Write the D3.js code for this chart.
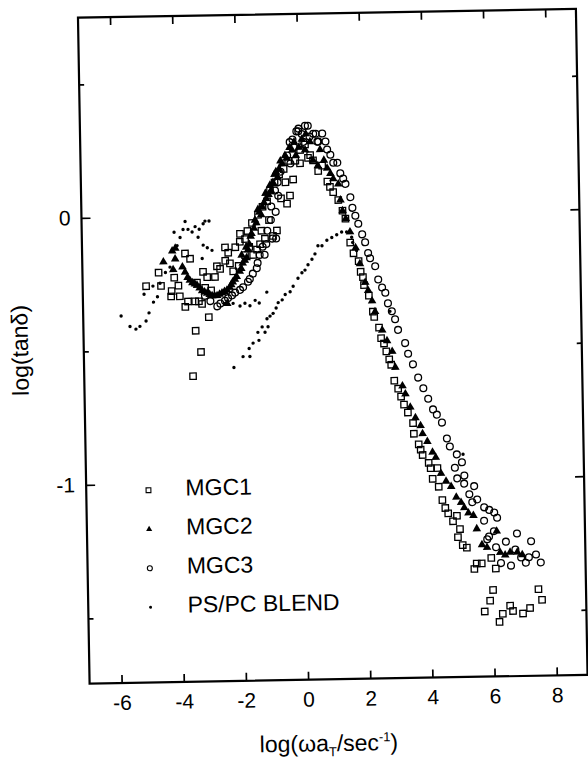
<!DOCTYPE html>
<html>
<head>
<meta charset="utf-8">
<script src="https://d3js.org/d3.v7.min.js"></script>
<style>
  body { margin: 0; background: #fff; }
  text { font-family: "Liberation Sans", Arial, Helvetica, sans-serif; fill: #000; }
</style>
</head>
<body>
<svg width="588" height="763"></svg>
<script>
// axis ticks
var xTicks = [-6, -4, -2, 0, 2, 4, 6, 8];
var yMajor = [0, -1];
var yMinor = [0.5, -0.5, -1.5];

var seriesNames = ["MGC1", "MGC2", "MGC3", "PS/PC BLEND"];

// [log(w aT), log(tan d)]
var mgc1 = [
  [-4.99,-0.26],[-4.58,-0.21],[-4.51,-0.26],[-4.19,-0.30],[-4.08,-0.23],[-3.95,-0.26],[-4.17,-0.28],
  [-3.91,-0.30],[-3.72,-0.14],[-3.56,-0.16],[-3.65,-0.32],[-3.74,-0.34],[-3.42,-0.32],[-3.30,-0.32],
  [-3.20,-0.33],[-2.99,-0.38],[-3.42,-0.43],[-3.26,-0.51],[-3.53,-0.60],[-3.15,-0.21],[-3.02,-0.23],
  [-3.09,-0.27],[-2.77,-0.23],[-2.70,-0.19],[-2.43,-0.12],[-2.33,-0.14],[-2.43,-0.17],[-2.28,-0.18],
  [-2.18,-0.21],[-1.94,-0.07],[-1.78,-0.09],[-1.79,-0.15],[-1.53,-0.15],[-1.40,-0.13],[-1.30,-0.11],
  [-1.14,-0.09],[-0.88,-0.08],[-0.75,-0.06],[-0.41,0.04],[-0.31,0.07],[-0.20,0.13],
  [-3.35,-0.25],[-2.90,-0.28],[-2.60,-0.20],[-2.10,-0.12],[-1.95,-0.10],[-2.00,-0.19],[-1.70,-0.06],
  [-1.65,-0.12],[-1.55,-0.03],[-1.35,0.00],[-1.25,-0.06],[-1.20,0.03],[-1.05,0.05],[-1.00,-0.02],
  [-0.95,0.09],[-0.80,0.12],[-0.65,0.15],[-0.60,0.06],[-0.50,0.17],[-0.45,0.12],[-0.35,0.20],
  [0.04,0.24],[0.36,0.22],[-0.12,0.20],[0.61,0.16],[0.20,0.26],[0.03,0.19],[0.74,0.18],[0.29,0.21],
  [0.45,0.20],[0.90,0.12],[0.98,0.10],
  [1.08,0.08],[1.24,0.05],[1.37,0.01],[1.46,-0.02],[1.60,-0.11],[1.70,-0.15],[1.86,-0.18],[1.92,-0.22],
  [1.99,-0.24],[2.02,-0.27],[2.17,-0.31],[2.29,-0.37],[2.33,-0.39],[2.48,-0.43],[2.54,-0.47],[2.63,-0.49],
  [2.70,-0.52],[2.79,-0.55],[2.85,-0.57],[2.94,-0.63],[3.06,-0.66],[3.15,-0.69],[3.24,-0.72],[3.36,-0.75],
  [3.52,-0.79],[3.54,-0.83],[3.69,-0.87],[3.75,-0.89],[3.81,-0.91],[4.00,-0.94],[4.06,-0.96],[4.28,-0.96],
  [4.12,-1.00],[4.31,-1.03],[4.42,-1.08],[4.51,-1.11],[4.60,-1.13],[4.75,-1.16],[4.88,-1.14],[4.97,-1.19],
  [4.90,-1.22],[5.05,-1.25],[5.18,-1.26],[5.49,-1.32],[5.65,-1.32],[5.41,-1.34],[5.96,-1.30],[6.10,-1.34],
  [6.00,-1.42],[5.90,-1.46],[5.72,-1.50],[6.30,-1.51],[6.19,-1.54],[6.54,-1.48],[6.63,-1.50],[6.95,-1.51],
  [7.18,-1.49],[7.46,-1.42],[7.57,-1.46]
];

var mgc2 = [
  [-4.42,-0.17],[-4.13,-0.13],[-4.03,-0.12],[-4.11,-0.20],[-3.81,-0.19],[-4.04,-0.16],[-3.73,-0.21],
  [-3.65,-0.23],[-3.58,-0.24],[-3.50,-0.25],[-3.42,-0.255],[-3.35,-0.26],[-3.27,-0.27],[-3.19,-0.28],
  [-3.11,-0.285],[-3.03,-0.29],[-2.95,-0.295],[-2.87,-0.30],[-2.79,-0.30],[-2.71,-0.30],[-2.63,-0.295],
  [-2.55,-0.29],[-2.47,-0.285],[-2.39,-0.28],[-2.30,-0.27],[-2.25,-0.26],[-2.20,-0.25],[-2.13,-0.24],
  [-2.07,-0.23],[-1.97,-0.21],[-1.92,-0.20],[-1.87,-0.18],[-1.80,-0.17],[-1.74,-0.16],[-1.69,-0.13],
  [-1.64,-0.11],[-1.57,-0.07],[-1.49,-0.05],[-1.41,-0.03],[-1.31,0.01],[-1.21,0.03],[-1.15,0.045],
  [-1.08,0.06],[-1.00,0.075],[-0.92,0.09],[-0.85,0.12],[-0.75,0.16],[-0.65,0.17],[-0.55,0.19],
  [-0.40,0.21],[-0.22,0.24],[0.10,0.28],[0.23,0.30],[-2.39,-0.33],
  [-1.90,-0.15],[-1.75,-0.12],[-1.60,-0.08],[-1.45,-0.02],[-1.35,0.02],[-1.25,0.00],[-1.10,0.08],
  [-0.95,0.11],[-0.80,0.15],[-0.70,0.14],[-0.60,0.20],[-0.45,0.22],[-0.30,0.25],[-0.15,0.27],
  [-0.10,0.22],[0.00,0.25],[0.20,0.24],[0.45,0.20],[0.60,0.18],[0.80,0.20],[0.90,0.17],
  [0.36,0.27],[0.68,0.24],[1.00,0.15],[1.09,0.13],[1.25,0.11],[1.31,0.05],[1.37,0.01],[1.47,-0.02],
  [1.60,-0.07],[1.77,-0.13],[1.90,-0.19],[2.06,-0.26],[2.15,-0.29],[2.27,-0.33],[2.36,-0.37],[2.58,-0.44],
  [2.73,-0.48],[2.89,-0.52],[2.98,-0.58],[3.20,-0.65],[3.29,-0.68],[3.44,-0.73],[3.60,-0.77],[3.76,-0.80],
  [3.82,-0.83],[3.97,-0.86],[4.13,-0.90],[4.23,-0.92],[4.39,-0.98],[4.55,-1.01],[4.71,-1.03],[4.87,-1.07],
  [5.02,-1.09],[5.12,-1.11],[5.25,-1.13],[5.41,-1.14],[5.51,-1.19],[5.67,-1.25],[5.83,-1.26],[6.15,-1.20],
  [6.25,-1.28],[6.41,-1.29],[6.57,-1.28],[6.80,-1.28],[6.96,-1.29]
];

var mgc3 = [
  [-3.10,-0.30],[-2.93,-0.32],[-2.71,-0.34],[-2.61,-0.33],[-2.46,-0.32],[-2.36,-0.31],[-2.23,-0.30],
  [-2.13,-0.29],[-1.97,-0.28],[-1.87,-0.27],[-1.71,-0.25],[-1.65,-0.24],[-1.55,-0.22],[-1.42,-0.20],
  [-1.39,-0.18],[-1.32,-0.15],[-1.16,-0.15],[-1.22,-0.12],[-1.10,-0.11],[-0.90,-0.09],[-0.78,-0.09],
  [-1.06,-0.06],[-0.94,-0.02],[-0.78,0.01],[-0.92,0.03],[-0.69,0.07],[-0.79,0.09],[-0.70,0.12],
  [-0.60,0.16],[-0.38,0.22],[-0.28,0.19],[-0.29,0.27],[-0.07,0.31],
  [0.21,0.33],[-0.01,0.31],[-0.20,0.28],[0.00,0.32],[0.10,0.30],[0.30,0.33],[0.35,0.29],[0.55,0.30],
  [0.15,0.27],[-0.15,0.25],[0.60,0.27],
  [0.47,0.30],[0.76,0.30],[0.63,0.27],[0.86,0.27],[0.91,0.24],[1.01,0.22],[1.10,0.19],[1.23,0.19],
  [1.32,0.15],[1.41,0.13],[1.48,0.11],[1.63,0.06],[1.69,0.02],[1.78,-0.01],[1.87,-0.04],[1.99,-0.08],
  [2.08,-0.11],[2.17,-0.15],[2.23,-0.17],[2.39,-0.20],[2.48,-0.25],[2.60,-0.28],[2.70,-0.30],[2.78,-0.34],
  [2.90,-0.37],[3.00,-0.40],[3.09,-0.44],[3.31,-0.49],[3.40,-0.53],[3.55,-0.57],[3.71,-0.62],[3.87,-0.66],
  [4.02,-0.70],[4.17,-0.74],[4.29,-0.76],[4.45,-0.79],[4.60,-0.85],[4.69,-0.88],[4.91,-0.91],[5.07,-0.94],
  [4.84,-0.96],[5.14,-0.99],[4.91,-1.00],[5.13,-1.02],[5.45,-1.03],[5.29,-1.06],[5.54,-1.08],[5.38,-1.09],
  [5.76,-1.11],[5.92,-1.12],[6.08,-1.13],[6.17,-1.15],[5.75,-1.16],[6.06,-1.20],[5.90,-1.22],[5.84,-1.23],
  [6.80,-1.21],[7.25,-1.24],[6.44,-1.24],[6.12,-1.26],[6.74,-1.27],[7.40,-1.29],[6.92,-1.30],[7.17,-1.30],
  [7.07,-1.32],[7.55,-1.32],[6.59,-1.33],[6.27,-1.32]
];

var blend = [
  [-5.81,-0.37],[-5.53,-0.41],[-5.34,-0.42],[-5.21,-0.41],[-5.01,-0.39],[-4.91,-0.36],[-4.76,-0.32],
  [-4.63,-0.30],[-5.06,-0.29],[-4.77,-0.26],[-4.54,-0.25],[-4.36,-0.21],[-4.21,-0.19],
  [-4.06,-0.06],[-3.87,-0.08],[-3.77,-0.05],[-3.70,-0.02],[-3.61,-0.05],[-3.48,-0.06],[-3.38,-0.04],
  [-3.25,-0.05],[-3.12,-0.03],[-3.06,-0.02],[-2.93,-0.02],[-3.97,-0.11],[-3.29,-0.08],[-3.13,-0.11],
  [-3.00,-0.12],[-2.85,-0.13],[-3.17,-0.16],
  [-2.46,-0.33],[-2.20,-0.33],[-1.98,-0.34],[-1.82,-0.33],[-1.66,-0.34],[-1.49,-0.32],[-1.36,-0.33],
  [-1.11,-0.29],
  [-2.21,-0.57],[-1.91,-0.53],[-1.69,-0.53],[-1.71,-0.50],[-1.58,-0.48],[-1.39,-0.47],[-1.42,-0.44],
  [-1.28,-0.42],[-1.19,-0.44],[-1.12,-0.39],[-1.09,-0.42],[-1.02,-0.38],[-0.92,-0.37],[-0.82,-0.35],
  [-0.75,-0.33],[-0.62,-0.32],[-0.52,-0.30],[-0.36,-0.29],[-0.26,-0.27],[-0.10,-0.24],[0.03,-0.22],
  [0.13,-0.21],[0.23,-0.19],[0.36,-0.17],[0.46,-0.15],[0.56,-0.12],[0.69,-0.12],[0.85,-0.10],
  [1.01,-0.09],[1.17,-0.08],[1.33,-0.07],[1.49,-0.07],[1.59,-0.07],[1.65,-0.09],[1.68,-0.11],
  [1.80,-0.14],[2.84,-0.37],[5.11,-0.91]
];

//Setup
var svg = d3.select("svg");

// frame of the plot (the scanned original is tilted about 1 degree)
var frameL = 83.75, frameR = 581.75, frameT = 13.25, frameB = 679.25;

var x = d3.scaleLinear().domain([-7.03, 8.99]).range([frameL, frameR]);
var y = d3.scaleLinear().domain([-1.744, 0.75]).range([frameB, frameT]);

var plain = function(d) { return String(d); };   // hyphen minus like the original

var g = svg.append("g")
  .attr("transform", "rotate(-1," + (frameL + frameR) / 2 + "," + (frameT + frameB) / 2 + ")");

// axes, ticks pointing inward
function styleAxis(sel) {
  sel.select(".domain").remove();
  sel.selectAll(".tick line").attr("stroke", "#000").attr("stroke-width", 1.7);
  sel.selectAll(".tick text")
    .style("font-family", "'Liberation Sans', Arial, sans-serif")
    .style("font-size", "21px")
    .attr("fill", "#000");
}

g.append("g")
  .attr("transform", "translate(0," + frameB + ")")
  .call(d3.axisBottom(x).tickValues(xTicks).tickSize(-8).tickPadding(12).tickFormat(plain))
  .call(styleAxis);

g.append("g")
  .attr("transform", "translate(0," + frameT + ")")
  .call(d3.axisTop(x).tickValues(xTicks).tickSize(-8).tickFormat(""))
  .call(styleAxis);

g.append("g")
  .attr("transform", "translate(" + frameL + ",0)")
  .call(d3.axisLeft(y).tickValues(yMajor).tickSize(-9).tickPadding(11).tickFormat(plain))
  .call(styleAxis);

g.append("g")
  .attr("transform", "translate(" + frameL + ",0)")
  .call(d3.axisLeft(y).tickValues(yMinor).tickSize(-5).tickFormat(""))
  .call(styleAxis);

g.append("g")
  .attr("transform", "translate(" + frameR + ",0)")
  .call(d3.axisRight(y).tickValues(yMajor).tickSize(-9).tickFormat(""))
  .call(styleAxis);

g.append("g")
  .attr("transform", "translate(" + frameR + ",0)")
  .call(d3.axisRight(y).tickValues(yMinor).tickSize(-5).tickFormat(""))
  .call(styleAxis);

g.append("rect")
  .attr("x", frameL).attr("y", frameT)
  .attr("width", frameR - frameL).attr("height", frameB - frameT)
  .attr("fill", "none").attr("stroke", "#000").attr("stroke-width", 2.2);

// markers
var sqSize = 6.4;
g.append("g").selectAll("rect")
  .data(mgc1).enter().append("rect")
  .attr("x", function(d) { return x(d[0]) - sqSize / 2; })
  .attr("y", function(d) { return y(d[1]) - sqSize / 2; })
  .attr("width", sqSize).attr("height", sqSize)
  .attr("fill", "none").attr("stroke", "#000").attr("stroke-width", 1.3);

g.append("g").selectAll("circle")
  .data(mgc3).enter().append("circle")
  .attr("cx", function(d) { return x(d[0]); })
  .attr("cy", function(d) { return y(d[1]); })
  .attr("r", 3.4)
  .attr("fill", "none").attr("stroke", "#000").attr("stroke-width", 1.3);

var tri = d3.symbol().type(d3.symbolTriangle).size(32);
g.append("g").selectAll("path")
  .data(mgc2).enter().append("path")
  .attr("d", tri)
  .attr("transform", function(d) { return "translate(" + x(d[0]) + "," + y(d[1]) + ")"; })
  .attr("fill", "#000");

g.append("g").selectAll("circle")
  .data(blend).enter().append("circle")
  .attr("cx", function(d) { return x(d[0]); })
  .attr("cy", function(d) { return y(d[1]); })
  .attr("r", 1.7)
  .attr("fill", "#000");

// legend
var legY = 487, legStep = 39, legX = 146, legTextX = 183;
var leg = g.append("g");
seriesNames.forEach(function(name, i) {
  var cy = legY + i * legStep;
  if (i == 0) {
    leg.append("rect").attr("x", legX - 2.4).attr("y", cy - 2.4).attr("width", 4.8).attr("height", 4.8)
      .attr("fill", "none").attr("stroke", "#000").attr("stroke-width", 1.1);
  } else if (i == 1) {
    leg.append("path").attr("d", d3.symbol().type(d3.symbolTriangle).size(16))
      .attr("transform", "translate(" + legX + "," + cy + ")").attr("fill", "#000");
  } else if (i == 2) {
    leg.append("circle").attr("cx", legX).attr("cy", cy).attr("r", 2.5)
      .attr("fill", "none").attr("stroke", "#000").attr("stroke-width", 1.1);
  } else {
    leg.append("circle").attr("cx", legX).attr("cy", cy).attr("r", 1.5).attr("fill", "#000");
  }
  leg.append("text").attr("x", legTextX).attr("y", cy + 6)
    .style("font-size", "23px").text(name);
});

// axis titles
var xl = g.append("text")
  .attr("x", 322).attr("y", 751)
  .attr("text-anchor", "middle")
  .style("font-size", "23px");
xl.append("tspan").text("log(\u03c9a");
xl.append("tspan").attr("dy", 5).style("font-size", "13px").text("T");
xl.append("tspan").attr("dy", -5).text("/sec");
xl.append("tspan").attr("dy", -9).style("font-size", "13px").text("-1");
xl.append("tspan").attr("dy", 9).text(")");

g.append("text")
  .attr("transform", "translate(28,345) rotate(-90)")
  .attr("text-anchor", "middle")
  .style("font-size", "23px")
  .text("log(tan\u03b4)");
</script>
</body>
</html>
